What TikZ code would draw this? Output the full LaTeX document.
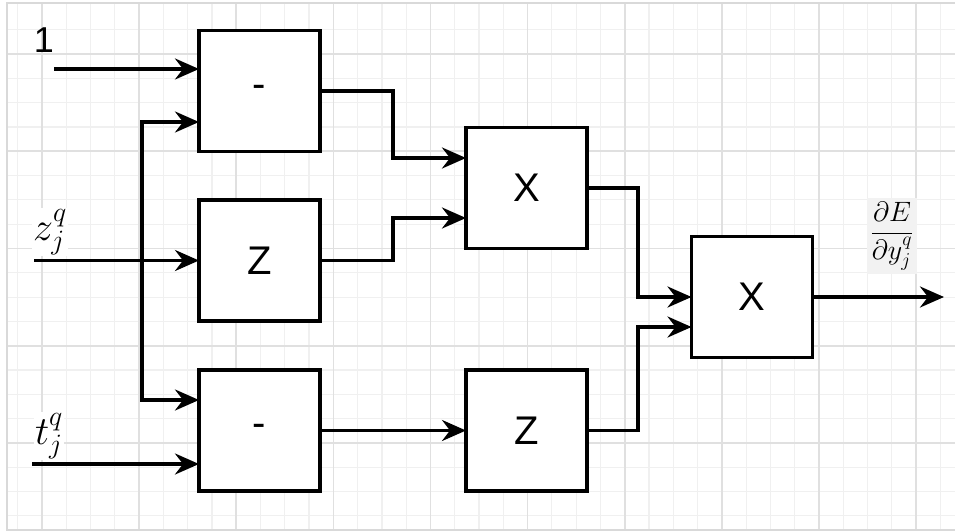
\RequirePackage{fix-cm}
\documentclass[tikz,border=0pt]{standalone}
\usepackage{amsmath}
\usepackage{fontspec}
\setmainfont{Liberation Sans}
\usetikzlibrary{arrows.meta,calc}
\begin{document}
\begin{tikzpicture}[x=1pt,y=-1pt,
  arr/.tip={Stealth[length=24pt,width=21pt,inset=8pt]},
  blk/.style={draw=black, line width=3.3pt, fill=white, minimum width=121pt, minimum height=121pt, inner sep=0pt, outer sep=0pt, font=\fontsize{40}{44}\selectfont},
  conn/.style={line width=3.3pt, -arr},
  both/.style={line width=3.3pt, arr-arr},
  minorg/.style={draw=black!6, line width=1.2pt},
  majorg/.style={draw=black!12, line width=1.6pt},
  frameg/.style={draw=black!15, line width=1.6pt},
  mlabel/.style={fill=white, inner sep=1pt, font=\fontsize{40}{44}\selectfont},
  flabel/.style={fill=black!5, inner sep=4pt, font=\fontsize{28}{32}\selectfont}]
\useasboundingbox (0,0) rectangle (955,532);
% grid
\begin{scope}
\clip (7,3) rectangle (955,530);
\foreach \i in {-1,...,37} \draw[minorg] ({42+24.28*\i},3) -- ({42+24.28*\i},530);
\foreach \j in {-1,...,19} \draw[minorg] (7,{54+24.31*\j}) -- (955,{54+24.31*\j});
\foreach \i in {0,...,9} \draw[majorg] ({42+97.12*\i},3) -- ({42+97.12*\i},530);
\foreach \j in {0,...,4} \draw[majorg] (7,{54+97.25*\j}) -- (955,{54+97.25*\j});
\end{scope}
\draw[frameg] (955,3) -- (7,3) -- (7,530) -- (955,530);
% blocks
\node[blk] (A) at (259.5,91) {-};
\node[blk] (B) at (259.5,260.5) {Z};
\node[blk] (C) at (259.5,430.5) {-};
\node[blk] (D) at (526.5,188) {X};
\node[blk] (E) at (526.5,430.5) {Z};
\node[blk] (F) at (752,297) {X};
% inputs
\coordinate (in1) at (54,69);
\coordinate (zin) at (34,260.5);
\coordinate (tin) at (32,464);
\coordinate (trA) at (142,122);
\coordinate (trC) at (142,400);
\coordinate (out) at (944,297);
\draw[conn] (in1) -- (in1 -| A.west);
\draw[conn] (zin) -- (B.west);
\draw[both] (trA -| A.west) -- (trA) -- (trC) -- (trC -| C.west);
\draw[conn] (tin) -- (tin -| C.west);
% internal
\draw[conn] (A.east) -- ++(73,0) |- ($(D.west)+(0,-30)$);
\draw[conn] (B.east) -- ++(73,0) |- ($(D.west)+(0,30)$);
\draw[conn] (C.east) -- (E.west);
\draw[conn] (D.east) -- ++(51,0) |- (F.west);
\draw[conn] (E.east) -- ++(51,0) |- ($(F.west)+(0,30)$);
\draw[conn] (F.east) -- (out);
% labels
\node[font=\fontsize{36}{40}\selectfont, inner sep=1pt] (one) at (44,40) {1};
\node[mlabel] (zl) at (50,232) {$z_j^q$};
\node[mlabel] (tl) at (49,436) {$t_j^q$};
\node[flabel] (dl) at (892,236) {$\dfrac{\partial E}{\partial y_j^q}$};
\end{tikzpicture}
\end{document}
